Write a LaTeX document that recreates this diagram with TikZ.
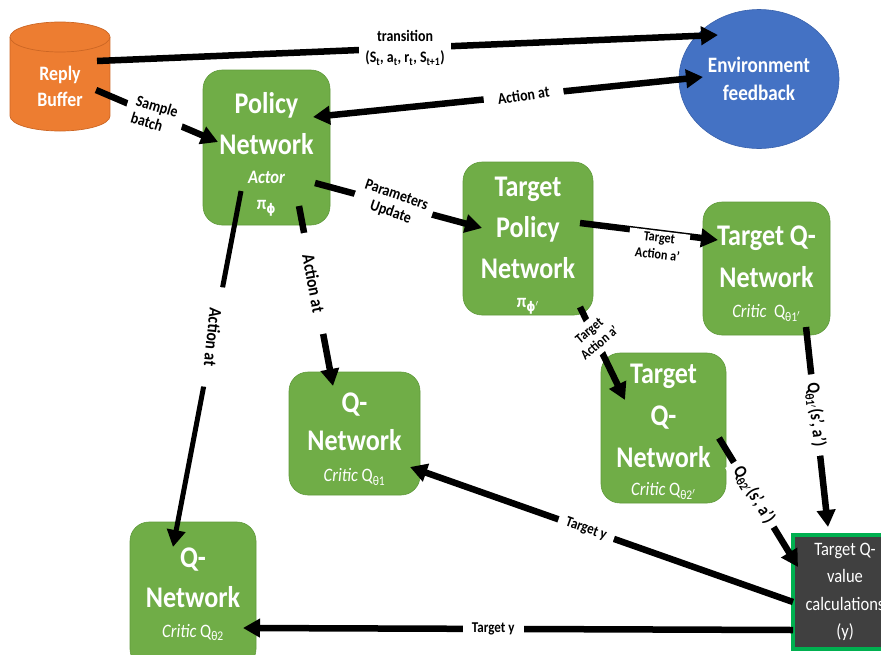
\documentclass[tikz,border=0pt]{standalone}
\usepackage{fontspec}
\setmainfont{Carlito}[FakeStretch=0.87]
\newfontfamily\phifont{DejaVu Sans}[FakeStretch=0.87]
\usetikzlibrary{arrows.meta,shapes.geometric}

\definecolor{netgreen}{HTML}{70AD47}
\definecolor{netedge}{HTML}{5F9A3B}
\definecolor{envblue}{HTML}{4472C4}
\definecolor{envedge}{HTML}{3A62AC}
\definecolor{bufor}{HTML}{ED7D31}
\definecolor{bufedge}{HTML}{CC6624}
\definecolor{calcgray}{HTML}{404040}
\definecolor{calcgreen}{HTML}{00B050}

\newcommand\bigf[1]{\fontsize{30}{#1}\selectfont\bfseries}
\newcommand\subf{\fontsize{19}{23}\selectfont}
\newcommand\labf[2]{\fontsize{#1}{#2}\selectfont\bfseries}
\newcommand\straightphi{{\phifont ϕ}}

\begin{document}
\begin{tikzpicture}[x=1pt, y=-1pt,
  >={Triangle[length=17pt,width=18pt]},
  netbox/.style={draw=netedge, line width=0.6pt, fill=netgreen,
    rounded corners=19pt, inner sep=0pt},
  nettext/.style={text=white, align=center, inner sep=0pt},
  envst/.style={ellipse, draw=envedge, line width=0.6pt, fill=envblue,
    text=white, align=center, inner sep=0pt,
    font=\fontsize{22}{28}\selectfont\bfseries},
  calcst/.style={draw=calcgreen, line width=4pt, fill=calcgray,
    text=white, align=center, inner sep=0pt,
    font=\fontsize{19}{27.5}\selectfont},
  arr/.style={line width=6.5pt, ->},
  lab/.style={fill=white, text=black, align=center, inner ysep=2pt,
    font=\labf{16}{19}}
]
\useasboundingbox (0,0) rectangle (881,654);

% replay buffer drum
\fill[bufor] (10,37) rectangle (110,116);
\fill[bufor] (60,116) ellipse [x radius=50pt, y radius=15pt];
\draw[bufedge, line width=0.7pt] (10,37) -- (10,116)
  arc[start angle=180, end angle=360, x radius=50pt, y radius=15pt] -- (110,37);
\filldraw[fill=bufor, draw=bufedge, line width=0.7pt] (60,37) ellipse [x radius=50pt, y radius=15pt];
\node[text=white, align=center, inner sep=0pt, font=\fontsize{20.5}{26}\selectfont\bfseries]
  (buf) at (60,86) {Reply\\Buffer};

% environment
\node[envst, minimum width=160pt, minimum height=139pt] (env) at (759,79) {Environment\\feedback};

% networks
\node[netbox, minimum width=127pt, minimum height=155pt] (pol) at (266.5,147.5) {};
\node[nettext, font=\bigf{41}] (polt) at (266.5,154)
  {Policy\\Network\\[-12pt]{\subf\itshape Actor}\\[-15pt]{\subf π\textsubscript{\straightphi}}};

\node[netbox, minimum width=130pt, minimum height=153pt] (tpol) at (528,238.5) {};
\node[nettext, font=\bigf{41}] (tpolt) at (528,245.8)
  {Target\\Policy\\Network\\[-12pt]{\subf π\textsubscript{\straightphi$'$}}};

\node[netbox, minimum width=127pt, minimum height=133pt] (tq1) at (766.5,268.5) {};
\node[nettext, font=\bigf{41.7}] (tq1t) at (766.5,273.8)
  {Target Q-\\Network\\[-11.7pt]{\subf\mdseries\textit{Critic}\ \ Q\textsubscript{θ1$'$}}};

\node[netbox, minimum width=131pt, minimum height=123pt] (q1) at (354.5,433.5) {};
\node[nettext, font=\bigf{38.5}] (q1t) at (354.5,439)
  {Q-\\Network\\[-7.5pt]{\subf\mdseries\textit{Critic} Q\textsubscript{θ1}}};

\node[netbox, minimum width=125pt, minimum height=150pt] (tq2) at (663.5,428) {};
\node[nettext, font=\bigf{41.8}] (tq2t) at (663.5,431.8)
  {Target\\Q-\\Network\\[-13.5pt]{\subf\mdseries\textit{Critic} Q\textsubscript{θ2$'$}}};

\node[netbox, minimum width=126pt, minimum height=146pt] (q2) at (193,595) {};
\node[nettext, font=\bigf{40}] (q2t) at (193,594.5)
  {Q-\\Network\\[-10pt]{\subf\mdseries\textit{Critic} Q\textsubscript{θ2}}};

% target value box
\node[calcst, minimum width=104pt, minimum height=114pt] (calc) at (845,592)
  {Target Q-\\value\\calculations\\(y)};

% connectors
\draw[arr] ([shift={(37,-25)}]buf.center) --
  node[lab, pos=.496, inner xsep=6pt, font=\labf{16}{21}]
  {transition\\(S\textsubscript{t}, a\textsubscript{t}, r\textsubscript{t}, S\textsubscript{t+1})}
  ([shift={(-41,-44)}]env.center);

\draw[arr, <->] ([shift={(46.5,-30.5)}]pol.center) --
  node[lab, pos=.54, rotate=8, inner xsep=14pt] {Action at}
  ([shift={(-56,-2)}]env.center);

\draw[arr] ([shift={(36,4)}]buf.center) --
  node[lab, pos=.48, rotate=-17, inner xsep=8pt, align=left, font=\labf{16}{18}] {Sample\\batch}
  ([shift={(-48.5,-5.5)}]pol.center);

\draw[arr] ([shift={(48.5,35.5)}]pol.center) --
  node[lab, pos=.47, rotate=-19, inner xsep=7pt, font=\labf{16}{18}] {Parameters\\Update}
  ([shift={(-46,-10.5)}]tpol.center);

\draw[arr] ([shift={(52,-15.5)}]tpol.center) --
  node[lab, pos=.58, sloped, below=-5pt, inner xsep=8pt, font=\labf{14}{17}] {Target\\Action a'}
  ([shift={(-48.5,-28.5)}]tq1.center);

\draw[arr] ([shift={(52,68.5)}]tpol.center) --
  node[lab, pos=.32, rotate=40, inner ysep=5pt, inner xsep=2pt, font=\labf{14}{16}] {Target\\Action a'}
  ([shift={(-38.5,-28)}]tq2.center);

\draw[arr] ([shift={(32.5,58.5)}]pol.center) --
  node[lab, pos=.43, sloped, inner xsep=22pt, font=\labf{18}{20}] {Action at}
  ([shift={(-21.5,-47.5)}]q1.center);

\draw[arr, line width=5pt] ([shift={(-25.5,43.5)}]pol.center) --
  node[lab, pos=.41, rotate=-96, inner xsep=21pt, font=\labf{18}{20}] {Action at}
  ([shift={(-20,-48)}]q2.center);

\draw[arr] ([shift={(39.5,58.5)}]tq1.center) --
  node[lab, pos=.44, sloped, inner xsep=9pt, font=\labf{18}{20}] {Q\textsubscript{θ1$'$}(s', a')}
  ([shift={(-17,-65)}]calc.center);

\draw[arr] ([shift={(55.5,10)}]tq2.center) --
  node[lab, pos=.44, sloped, inner xsep=6pt, font=\labf{18}{20}] {Q\textsubscript{θ2$'$}(s', a')}
  ([shift={(-47,-25)}]calc.center);

\draw[arr] ([shift={(-52,10)}]calc.center) --
  node[lab, pos=.54, sloped, inner xsep=8pt, font=\labf{15}{17}] {Target y}
  ([shift={(55.5,33.5)}]q1.center);

\draw[arr] ([shift={(-52,38)}]calc.center) --
  node[lab, pos=.545, inner xsep=9pt, font=\labf{15}{17}] {Target y}
  ([shift={(50,33)}]q2.center);
\end{tikzpicture}
\end{document}
